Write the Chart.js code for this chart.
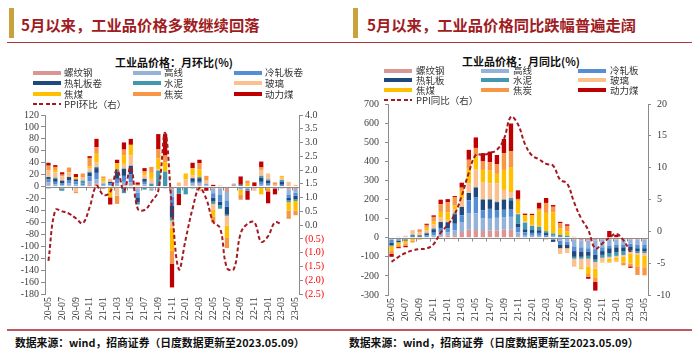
<!DOCTYPE html>
<html><head><meta charset="utf-8">
<script src="https://cdn.jsdelivr.net/npm/chart.js@4.4.0/dist/chart.umd.min.js"></script>
<style>
html,body{margin:0;padding:0;background:#fff;}
body{width:692px;height:353px;position:relative;overflow:hidden;font-family:'Noto Sans CJK SC','Noto Sans',sans-serif;}
.gold{position:absolute;background:#C9A23C;width:5px;height:30px;top:8px;}
.title{position:absolute;top:16px;font-size:15.3px;line-height:16px;font-weight:bold;color:#9E1C22;white-space:nowrap;}
.rule{position:absolute;height:1.5px;background:#A8383A;}
.frule{position:absolute;height:1.5px;background:#BC5A5E;}
.sub{position:absolute;font-size:11px;line-height:12px;font-weight:bold;color:#111;white-space:nowrap;transform:translateX(-50%);}
.lg{position:absolute;font-size:9.5px;line-height:10px;color:#333;white-space:nowrap;}
.sw{position:absolute;height:4px;width:28px;}
.dash{position:absolute;height:2px;width:28px;background:repeating-linear-gradient(to right,#A31A22 0 4px,transparent 4px 6.5px);}
.foot{position:absolute;font-size:10.8px;line-height:12px;font-weight:bold;color:#111;white-space:nowrap;}
canvas{position:absolute;z-index:1;}
#lgL,#lgR{position:absolute;left:0;top:0;z-index:2;}
</style></head>
<body>
<div class="gold" style="left:9px"></div>
<div class="title" style="left:21px">5月以来，工业品价格多数继续回落</div>
<div class="rule" style="left:7px;width:339px;top:41.5px"></div>
<div class="sub" style="left:174px;top:55.5px">工业品价格：月环比(%)</div>

<div class="gold" style="left:353px"></div>
<div class="title" style="left:367px">5月以来，工业品价格同比跌幅普遍走阔</div>
<div class="rule" style="left:346px;width:346px;top:41.5px"></div>
<div class="sub" style="left:521px;top:55px">工业品价格：月同比(%)</div>

<div id="lgL"></div><div id="lgR"></div>

<canvas id="cL" width="346" height="230" style="left:0;top:100px;width:346px;height:230px"></canvas>
<canvas id="cR" width="346" height="240" style="left:346px;top:90px;width:346px;height:240px"></canvas>

<div class="frule" style="left:7px;width:339px;top:329px"></div>
<div class="frule" style="left:346px;width:346px;top:329px"></div>
<div class="foot" style="left:15px;top:336px">数据来源：wind，招商证券（日度数据更新至2023.05.09）</div>
<div class="foot" style="left:349px;top:336px">数据来源：wind，招商证券（日度数据更新至2023.05.09）</div>

<script>
// ---------- data ----------
const months = ['20-05','20-06','20-07','20-08','20-09','20-10','20-11','20-12','21-01','21-02','21-03','21-04','21-05','21-06','21-07','21-08','21-09','21-10','21-11','21-12','22-01','22-02','22-03','22-04','22-05','22-06','22-07','22-08','22-09','22-10','22-11','22-12','23-01','23-02','23-03','23-04','23-05'];

const namesMoM = ['螺纹钢','高线','冷轧板卷','热轧板卷','水泥','玻璃','焦煤','焦炭','动力煤'];
const namesYoY = ['螺纹钢','高线','冷轧板','热轧板','水泥','玻璃','焦煤','焦炭','动力煤'];
const ppiMoMName = 'PPI环比（右）';
const ppiYoYName = 'PPI同比（右）';

// month-on-month (%)
const mom_rebar   = [2,-2,-3,2,0,-2,4,5,0,0,0,2,2,-3,0,-3,-2,-3,-5,0,0,2,2,0,-3,-3,-9,3,-2,0,0,0,0,0,0,-5,-4];
const mom_wire    = [5,4,2,3,4,2,5,7,3,2,5,6,5,-7,4,-4,0,0,-12,0,0,3,3,2,-8,-10,-14,2,-3,-4,-3,3,2,-3,-3,-8,-6];
const mom_cold    = [5,4,3,5,5,3,8,11,0,3,8,10,14,-8,4,0,0,0,-15,0,0,3,3,2,-8,-12,-11,0,0,-3,0,5,3,0,3,-6,-5];
const mom_hot     = [4,5,5,6,3,0,6,8,0,3,12,12,14,-8,5,0,0,0,-20,0,0,6,6,0,-6,-6,-13,0,0,0,0,7,5,0,5,-4,-6];
const mom_cement  = [-3,2,-4,-2,0,5,2,2,2,0,4,-11,-3,-4,-5,5,27,25,-5,-12,-13,-3,2,0,-4,-6,-2,0,3,0,0,3,2,0,3,-3,-3];
const mom_glass   = [11,9,7,8,-8,6,6,8,4,5,-15,8,17,3,6,8,2,0,-12,7,12,5,-8,6,-10,2,-16,0,0,0,-4,10,10,3,4,8,3];
const mom_coking  = [0,4,0,0,4,0,3,14,5,-18,10,14,18,0,4,10,18,16,-38,0,10,12,13,0,-11,0,-21,0,-8,5,0,-13,-4,0,3,-14,-16];
const mom_coke    = [8,5,3,8,-3,6,14,11,3,0,-14,10,0,0,3,10,16,11,-22,0,0,0,10,8,-10,0,-17,0,-9,5,0,4,-4,4,0,-14,-8];
const mom_thermal = [5,3,4,0,5,0,3,14,-3,-12,6,12,10,4,5,0,25,36,-40,-19,0,9,6,-7,3,0,0,-2,14,-15,7,10,-20,-10,0,0,0];
const ppi_mom     = [-1.3,0.55,0.5,0.42,0.25,0.07,0.65,1.42,1.1,1.2,2.0,1.25,2.1,0.6,0.55,0.85,1.25,3.35,0.6,-1.6,-0.5,0.6,1.35,0.95,0.12,-0.1,-1.55,-1.6,-0.3,0.05,0.1,-0.6,-0.4,0.1,0.02,null,null];

// year-on-year (%)
const yoy_rebar   = [0,0,0,0,0,0,4,7,12,13,30,42,40,35,38,38,42,42,8,0,0,0,0,0,0,-5,-10,-15,-15,-15,-10,-10,-10,-10,-10,-10,-10];
const yoy_wire    = [-10,-8,-5,0,0,4,8,23,17,25,52,84,88,65,61,66,66,67,20,14,10,10,4,10,-15,-15,-35,-35,-40,-45,-40,-30,-25,-25,-20,-25,-25];
const yoy_cold    = [-15,-8,-5,5,5,8,14,21,21,35,35,70,85,44,52,38,38,38,25,15,15,15,8,-10,-20,-15,-25,-25,-20,-30,-20,-15,-15,-15,-15,-20,-20];
const yoy_hot     = [-15,-8,-5,7,7,10,18,31,31,50,44,38,49,56,47,44,52,49,20,15,15,14,12,-12,-20,-20,-30,-25,-20,-25,-20,-25,-25,-20,-20,-15,-15];
const yoy_cement  = [-5,0,0,4,0,4,5,0,0,5,0,0,3,0,5,3,3,12,50,35,22,18,10,12,15,10,-10,-10,-15,-12,-15,-20,-20,-20,-10,-10,-10];
const yoy_glass   = [0,5,10,24,16,14,20,23,12,20,44,52,91,88,82,96,49,31,5,5,5,0,-10,0,-30,-25,-42,-45,-40,-35,-20,-10,-10,-10,-10,-10,-15];
const yoy_coking  = [-25,-15,-15,-15,-10,12,15,30,40,20,40,75,70,67,66,49,105,131,65,35,50,85,96,110,35,22,0,-10,-40,-45,-5,-15,-15,-30,-50,-60,-60];
const yoy_coke    = [-15,-10,-12,-10,10,15,25,40,52,45,17,47,44,44,44,52,88,84,10,0,0,10,52,30,25,30,5,0,-15,-25,0,-5,-5,-15,-15,-45,-42];
const yoy_thermal = [-15,-6,-8,0,4,6,8,24,17,5,26,52,55,44,56,47,74,144,45,7,8,31,26,9,8,8,0,0,-10,-45,0,35,15,0,-8,0,0];
const ppi_yoy     = [-4.8,-4.0,-3.4,-3.0,-2.8,-2.7,-2.0,-0.2,1.0,2.7,5.6,9.2,12.0,12.0,12.3,12.8,14.5,18.0,16.8,13.7,11.9,11.3,10.6,10.3,8.1,7.5,4.5,2.0,0.2,-2.7,-1.9,-1.0,-0.4,-1.4,-3.2,null,null];

// ---------- style ----------
const COLORS = ['#D99694','#95B3D7','#558ED5','#1F497D','#4198AF','#FAC090','#FFC000','#F79646','#C00000'];
const LINE_COLOR = '#A31A22';
const SERIF = "'Liberation Serif','Times New Roman',serif";
const AXIS = '#8C8C8C';

// ---------- legends ----------
function legend(host, names, ppiName, cols, rows, off) {
  const el = document.getElementById(host);
  let h = '';
  names.forEach((n, i) => {
    const c = i % 3, r = Math.floor(i / 3);
    h += `<div class="sw" style="left:${cols[c]}px;top:${rows[r]-2}px;background:${COLORS[i]}"></div>`;
    h += `<div class="lg" style="left:${cols[c]+off}px;top:${rows[r]-5.5}px">${n}</div>`;
  });
  h += `<div class="dash" style="left:${cols[0]}px;top:${rows[3]-1}px"></div>`;
  h += `<div class="lg" style="left:${cols[0]+off}px;top:${rows[3]-5.5}px">${ppiName}</div>`;
  el.innerHTML = h;
}
legend('lgL', namesMoM, ppiMoMName, [33,133,234], [72.7,83.3,94,104.3], 31);
legend('lgR', namesYoY, ppiYoYName, [384,481,578], [70.7,80.3,90,100], 32);

// ---------- plugin: zero line with category ticks ----------
const zeroLine = {
  id: 'zeroLine',
  afterDatasetDraw(chart, args) {
    if (args.index !== 0) return;
    const {ctx, chartArea: a, scales} = chart;
    const y0 = Math.round(scales.y.getPixelForValue(0)) + 0.5;
    const n = chart.data.labels.length, w = (a.right - a.left) / n;
    ctx.save();
    ctx.strokeStyle = AXIS; ctx.lineWidth = 1;
    ctx.beginPath();
    ctx.moveTo(a.left, y0); ctx.lineTo(a.right, y0);
    for (let k = 2; k <= n; k += 2) {
      const x = Math.round(a.left + k * w) + 0.5;
      ctx.moveTo(x, y0); ctx.lineTo(x, y0 + 3);
    }
    ctx.stroke();
    ctx.restore();
  }
};

function build(id, series, ppi, o) {
  const datasets = series.map((d, i) => ({
    type: 'bar', label: o.names[i], data: d, backgroundColor: COLORS[i],
    yAxisID: 'y', barPercentage: 0.62, categoryPercentage: 1, borderWidth: 0, order: 1
  }));
  datasets.push({
    type: 'line', label: o.ppiName, data: ppi, yAxisID: 'y1', borderColor: LINE_COLOR,
    borderWidth: 2, borderDash: [4, 2.5], pointRadius: 0, tension: 0.4, fill: false, order: 0
  });
  const tickFont = {family: SERIF, size: 10};
  new Chart(document.getElementById(id), {
    data: {labels: months, datasets},
    options: {
      responsive: false, animation: false, devicePixelRatio: 1,
      layout: {padding: {top: o.top, left: 0, right: 0, bottom: 0}},
      plugins: {legend: {display: false}, tooltip: {enabled: false}},
      scales: {
        x: {
          stacked: true, offset: true,
          grid: {display: false, drawTicks: false}, border: {display: false},
          ticks: {autoSkip: false, minRotation: 90, maxRotation: 90, padding: 3, color: '#333', font: tickFont,
            callback: function (v, i) { return i % 2 === 0 ? months[i] : ''; }},
          afterFit: s => { s.height = o.xh; }
        },
        y: {
          stacked: true, position: 'left', min: o.yMin, max: o.yMax,
          ticks: {stepSize: o.yStep, autoSkip: false, padding: o.lPad, color: '#404040', font: tickFont},
          grid: {drawOnChartArea: false, drawTicks: true, tickLength: o.tl, color: AXIS},
          border: {display: true, color: AXIS},
          afterFit: s => { s.width = o.lw; }
        },
        y1: {
          position: 'right', min: o.rMin, max: o.rMax,
          ticks: {stepSize: o.rStep, autoSkip: false, padding: o.rPad, font: tickFont,
            color: c => (c.tick && c.tick.value < 0 && o.redNeg) ? '#FF0000' : '#404040',
            callback: o.rFmt},
          grid: {drawOnChartArea: false, drawTicks: true, tickLength: o.tl, color: AXIS},
          border: {display: true, color: AXIS},
          afterFit: s => { s.width = o.rw; }
        }
      }
    },
    plugins: [zeroLine]
  });
}

build('cL',
  [mom_rebar, mom_wire, mom_cold, mom_hot, mom_cement, mom_glass, mom_coking, mom_coke, mom_thermal],
  ppi_mom,
  {names: namesMoM, ppiName: ppiMoMName, top: 15, xh: 36, lw: 45, rw: 47, tl: 4, lPad: 2, rPad: 2,
   yMin: -180, yMax: 120, yStep: 20, rMin: -2.5, rMax: 4.0, rStep: 0.5, redNeg: true,
   rFmt: v => v < 0 ? '(' + Math.abs(v).toFixed(1) + ')' : v.toFixed(1)});

build('cR',
  [yoy_rebar, yoy_wire, yoy_cold, yoy_hot, yoy_cement, yoy_glass, yoy_coking, yoy_coke, yoy_thermal],
  ppi_yoy,
  {names: namesYoY, ppiName: ppiYoYName, top: 14, xh: 35, lw: 42, rw: 44, tl: 3, lPad: 6, rPad: 6,
   yMin: -300, yMax: 700, yStep: 100, rMin: -10, rMax: 20, rStep: 5, redNeg: false,
   rFmt: v => String(v)});
</script>
</body></html>
